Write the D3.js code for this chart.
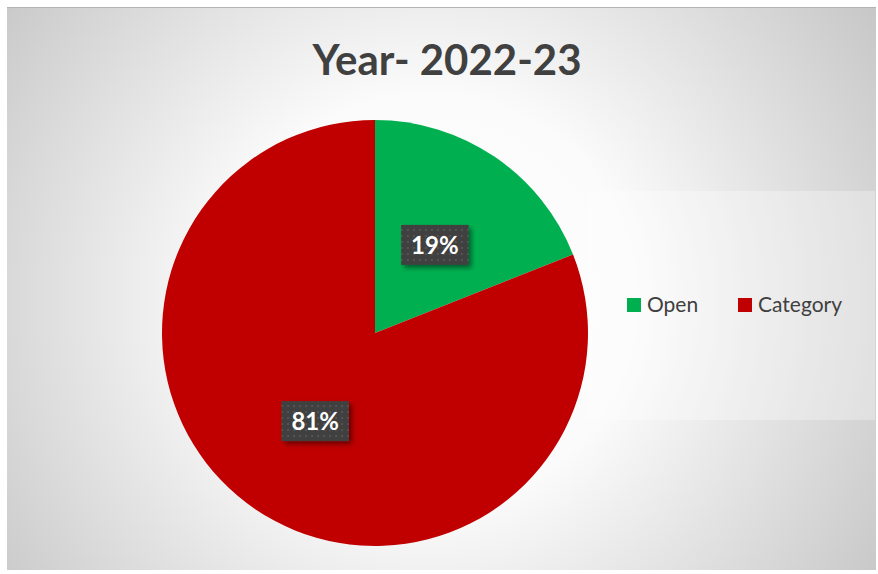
<!DOCTYPE html>
<html>
<head>
<meta charset="utf-8">
<script src="https://cdn.jsdelivr.net/npm/d3@7"></script>
<style>
  body { margin: 0; background: #fff; }
  svg { display: block; }
</style>
</head>
<body>
<script>
var W = 878, H = 574

// data
var categories = ['Open', 'Category']
var values = [19, 81]
var colors = ['#00b050', '#c00000']
var title = 'Year- 2022-23'

var svg = d3.select('body').append('svg')
  .attr('width', W)
  .attr('height', H)

var defs = svg.append('defs')

var bg = defs.append('radialGradient')
  .attr('id', 'bg')
  .attr('gradientUnits', 'userSpaceOnUse')
  .attr('cx', 430).attr('cy', 300).attr('r', 540)
bg.append('stop').attr('offset', '0').attr('stop-color', '#ffffff')
bg.append('stop').attr('offset', '0.38').attr('stop-color', '#fbfbfb')
bg.append('stop').attr('offset', '1').attr('stop-color', '#c6c6c6')

var pat = defs.append('pattern')
  .attr('id', 'dots')
  .attr('patternUnits', 'userSpaceOnUse')
  .attr('width', 6).attr('height', 6)
pat.append('rect').attr('width', 6).attr('height', 6).attr('fill', '#3f3f3f')
pat.append('rect').attr('x', 2).attr('y', 2).attr('width', 2).attr('height', 2).attr('fill', '#555555')

var sh = defs.append('filter').attr('id', 'shadow')
  .attr('x', '-30%').attr('y', '-30%').attr('width', '160%').attr('height', '160%')
sh.append('feDropShadow')
  .attr('dx', 3).attr('dy', 3).attr('stdDeviation', 2.5)
  .attr('flood-color', '#000').attr('flood-opacity', 0.45)

// chart area
svg.append('rect')
  .attr('x', 7).attr('y', 7)
  .attr('width', 869).attr('height', 563)
  .attr('fill', 'url(#bg)')
svg.append('line')
  .attr('x1', 7).attr('x2', 876).attr('y1', 7.5).attr('y2', 7.5)
  .attr('stroke', '#b4b4b4').attr('stroke-width', 1)

// title
var t = svg.append('text')
  .attr('x', 447).attr('y', 75)
  .attr('text-anchor', 'middle')
  .attr('font-family', 'Lato, "Open Sans", sans-serif')
  .attr('font-weight', 'bold')
  .attr('font-size', 44)
  .attr('fill', '#404040')
  .text(title)
var tw = t.node().getComputedTextLength()
t.attr('font-size', 44 * 269 / tw)

// legend panel
svg.append('rect')
  .attr('x', 587).attr('y', 191)
  .attr('width', 288).attr('height', 229)
  .attr('fill', '#ffffff').attr('opacity', 0.3)

// pie
var cx = 375, cy = 333, r = 213
var pie = d3.pie().sort(null).value(function(d) { return d })
var arc = d3.arc().innerRadius(0).outerRadius(r)
var labelArc = d3.arc().innerRadius(r * 0.5).outerRadius(r * 0.5)
var total = d3.sum(values)
var arcs = pie(values)

var g = svg.append('g').attr('transform', 'translate(' + [cx, cy] + ')')
g.selectAll('path.slice')
  .data(arcs)
  .enter().append('path')
  .attr('class', 'slice')
  .attr('d', arc)
  .attr('fill', function(d, i) { return colors[i] })

var lab = g.selectAll('g.lab')
  .data(arcs)
  .enter().append('g')
  .attr('class', 'lab')
  .attr('transform', function(d) { return 'translate(' + labelArc.centroid(d) + ')' })

lab.each(function(d) {
  var el = d3.select(this)
  var box = el.append('rect').attr('fill', 'url(#dots)').attr('filter', 'url(#shadow)')
  var txt = el.append('text')
    .attr('text-anchor', 'middle')
    .attr('dy', '0.36em')
    .attr('font-family', 'Lato, "Open Sans", sans-serif')
    .attr('font-weight', 'bold')
    .attr('font-size', 24)
    .attr('fill', '#ffffff')
    .text(Math.round(d.value / total * 100) + '%')
  var w = txt.node().getComputedTextLength() + 20
  box.attr('x', -w / 2).attr('y', -20).attr('width', w).attr('height', 40)
})

// legend
var leg = svg.append('g')
var lx = [627, 738]
categories.forEach(function(c, i) {
  leg.append('rect')
    .attr('x', lx[i]).attr('y', 298)
    .attr('width', 14).attr('height', 14)
    .attr('fill', colors[i])
  leg.append('text')
    .attr('x', lx[i] + 20).attr('y', 312)
    .attr('font-family', 'Lato, "Open Sans", sans-serif')
    .attr('font-size', 21)
    .attr('fill', '#404040')
    .text(c)
})
</script>
</body>
</html>
